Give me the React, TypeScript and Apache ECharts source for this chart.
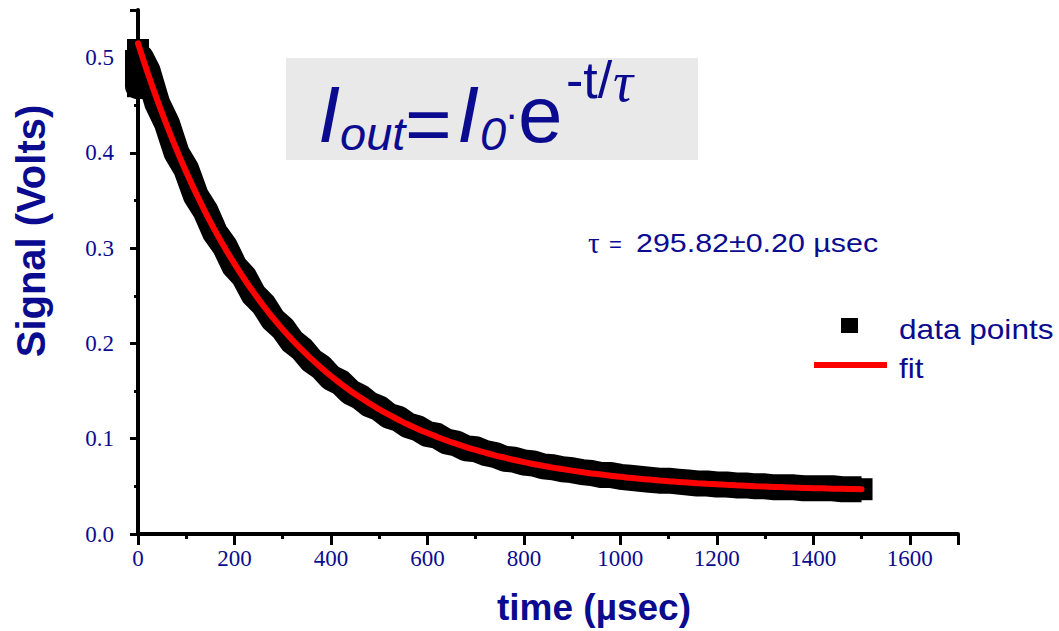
import React, { useEffect, useRef } from "react";
import * as echarts from "echarts";

// measured data points (time in µs, signal in V)
const dataTime = [0, 0, 2, 6, 20, 40, 60, 80, 100, 120, 140, 160, 180, 200, 220, 240, 260, 280, 300, 320, 340, 360, 380, 400, 420, 440, 460, 480, 500, 520, 540, 560, 580, 600, 620, 640, 660, 680, 700, 720, 740, 760, 780, 800, 820, 840, 860, 880, 900, 920, 940, 960, 980, 1000, 1020, 1040, 1060, 1080, 1100, 1120, 1140, 1160, 1180, 1200, 1220, 1240, 1260, 1280, 1300, 1320, 1340, 1360, 1380, 1400, 1420, 1440, 1460, 1480, 1500];
const dataSignal = [0.508, 0.47, 0.49, 0.5, 0.486, 0.452, 0.431, 0.4, 0.383, 0.355, 0.339, 0.316, 0.302, 0.281, 0.27, 0.251, 0.241, 0.225, 0.216, 0.202, 0.194, 0.182, 0.175, 0.164, 0.159, 0.149, 0.144, 0.136, 0.132, 0.124, 0.121, 0.114, 0.111, 0.105, 0.103, 0.097, 0.095, 0.09, 0.089, 0.085, 0.083, 0.079, 0.078, 0.075, 0.074, 0.071, 0.07, 0.068, 0.067, 0.065, 0.064, 0.062, 0.062, 0.06, 0.059, 0.058, 0.057, 0.056, 0.056, 0.055, 0.054, 0.053, 0.053, 0.052, 0.052, 0.051, 0.051, 0.05, 0.05, 0.049, 0.049, 0.049, 0.048, 0.048, 0.048, 0.048, 0.047, 0.047, 0.047];

// fitted curve
const fitTime = [0, 20, 40, 60, 80, 100, 120, 140, 160, 180, 200, 220, 240, 260, 280, 300, 320, 340, 360, 380, 400, 420, 440, 460, 480, 500, 520, 540, 560, 580, 600, 620, 640, 660, 680, 700, 720, 740, 760, 780, 800, 820, 840, 860, 880, 900, 920, 940, 960, 980, 1000, 1020, 1040, 1060, 1080, 1100, 1120, 1140, 1160, 1180, 1200, 1220, 1240, 1260, 1280, 1300, 1320, 1340, 1360, 1380, 1400, 1420, 1440, 1460, 1480, 1500];
const fitSignal = [0.515, 0.4842, 0.4554, 0.4285, 0.4034, 0.3799, 0.358, 0.3374, 0.3182, 0.3003, 0.2836, 0.2679, 0.2533, 0.2396, 0.2268, 0.2148, 0.2037, 0.1932, 0.1835, 0.1744, 0.1658, 0.1579, 0.1504, 0.1435, 0.137, 0.1309, 0.1252, 0.1199, 0.1149, 0.1103, 0.106, 0.1019, 0.0981, 0.0946, 0.0913, 0.0882, 0.0853, 0.0826, 0.0801, 0.0777, 0.0755, 0.0735, 0.0715, 0.0697, 0.0681, 0.0665, 0.065, 0.0636, 0.0624, 0.0612, 0.06, 0.059, 0.058, 0.0571, 0.0562, 0.0554, 0.0547, 0.054, 0.0533, 0.0527, 0.0522, 0.0516, 0.0511, 0.0507, 0.0502, 0.0498, 0.0494, 0.0491, 0.0487, 0.0484, 0.0481, 0.0479, 0.0476, 0.0474, 0.0472, 0.047];

const seriesNames = ["data points", "fit"];
const xTitle = "time (µsec)";
const yTitle = "Signal (Volts)";
const tauText = "295.82±0.20 µsec";

const NAVY = "#0b0b8f";
const SANS = "'Liberation Sans', Arial, sans-serif";
const SERIF = "'Liberation Serif', 'Times New Roman', serif";

export default function App() {
  const ref = useRef<HTMLDivElement>(null);
  useEffect(() => {
    document.body.style.margin = "0";
    const chart = echarts.init(ref.current!, null, { renderer: "svg" });
    const dataPts = dataTime.map((t, i) => [t, dataSignal[i]]);
    const fitPts = fitTime.map((t, i) => [t, fitSignal[i]]);
    const lastIdx = dataPts.length - 1;
    const ftxt = (
      x: number,
      y: number,
      text: string,
      size: number,
      opts: any = {}
    ) => ({
      type: "text",
      x,
      y,
      scaleX: opts.scaleX ?? 1,
      rotation: opts.rotation ?? 0,
      z: 100,
      style: {
        text,
        x: 0,
        y: 0,
        fill: NAVY,
        font: `${opts.style ?? "normal"} ${opts.weight ?? "normal"} ${size}px ${opts.family ?? SANS}`,
        align: opts.align ?? "left",
        verticalAlign: "middle",
      },
    });
    chart.setOption({
      animation: false,
      backgroundColor: "#ffffff",
      grid: { left: 138, top: 10, width: 820, height: 524, containLabel: false },
      xAxis: {
        type: "value",
        min: 0,
        max: 1700,
        interval: 200,
        axisLine: { show: true, onZero: false, lineStyle: { color: "#000", width: 4 } },
        axisTick: { show: true, length: 11, lineStyle: { color: "#000", width: 3 } },
        minorTick: { show: true, splitNumber: 2, length: 5, lineStyle: { color: "#000", width: 3 } },
        splitLine: { show: false },
        axisLabel: {
          margin: 13,
          showMaxLabel: false,
          color: NAVY,
          fontFamily: SERIF,
          fontSize: 23,
          formatter: (v: number) => String(v),
        },
      },
      yAxis: {
        type: "value",
        min: 0,
        max: 0.55,
        interval: 0.1,
        axisLine: { show: true, onZero: false, lineStyle: { color: "#000", width: 4 } },
        axisTick: { show: true, length: 8, lineStyle: { color: "#000", width: 3 } },
        minorTick: { show: true, splitNumber: 2, length: 4, lineStyle: { color: "#000", width: 3 } },
        splitLine: { show: false },
        axisLabel: {
          margin: 24,
          showMaxLabel: false,
          color: NAVY,
          fontFamily: SERIF,
          fontSize: 23,
          formatter: (v: number) => v.toFixed(1),
        },
      },
      series: [
        {
          name: seriesNames[0],
          type: "line",
          data: dataPts,
          symbol: "rect",
          symbolSize: (_v: any, p: any) => (p.dataIndex === lastIdx || p.dataIndex < 3 ? 22 : 2),
          showSymbol: true,
          itemStyle: { color: "#000" },
          lineStyle: { color: "#000", width: 26, join: "round" },
          z: 2,
        },
        {
          name: seriesNames[1],
          type: "line",
          data: fitPts,
          smooth: true,
          showSymbol: false,
          symbol: "none",
          lineStyle: { color: "#ff0000", width: 6, cap: "round" },
          z: 3,
        },
      ],
      graphic: [
        { type: "rect", shape: { x: 286, y: 58, width: 412, height: 102 }, style: { fill: "#e9e9e9" }, z: 50 },
        ftxt(318, 114, "I", 80, { style: "italic" }),
        ftxt(340, 133, "out", 47, { style: "italic" }),
        ftxt(405, 123, "=", 80),
        ftxt(457, 114, "I", 80, { style: "italic" }),
        ftxt(480, 133, "0", 47, { style: "italic" }),
        ftxt(505, 114, "·", 40),
        ftxt(518, 114, "e", 80),
        ftxt(566, 80, "-t/", 52),
        ftxt(613, 82, "τ", 56, { style: "italic", family: SERIF }),
        // tau annotation
        ftxt(588, 243, "τ", 29, { family: SERIF }),
        ftxt(609, 244, "=", 22),
        ftxt(636, 243, tauText, 26, { scaleX: 1.17 }),
        // legend
        { type: "rect", shape: { x: 841, y: 318, width: 17, height: 15 }, style: { fill: "#000" }, z: 100 },
        { type: "line", shape: { x1: 814, y1: 365, x2: 887, y2: 365 }, style: { stroke: "#ff0000", lineWidth: 6 }, z: 100 },
        ftxt(899, 329, seriesNames[0], 27, { scaleX: 1.17 }),
        ftxt(899, 368, seriesNames[1], 27, { scaleX: 1.17 }),
        // axis titles
        ftxt(31, 231, yTitle, 40, { weight: "bold", rotation: Math.PI / 2, align: "center" }),
        ftxt(594, 607, xTitle, 37, { weight: "bold", align: "center" }),
      ],
    });
    return () => chart.dispose();
  }, []);
  return <div ref={ref} style={{ width: 1059, height: 631 }} />;
}
